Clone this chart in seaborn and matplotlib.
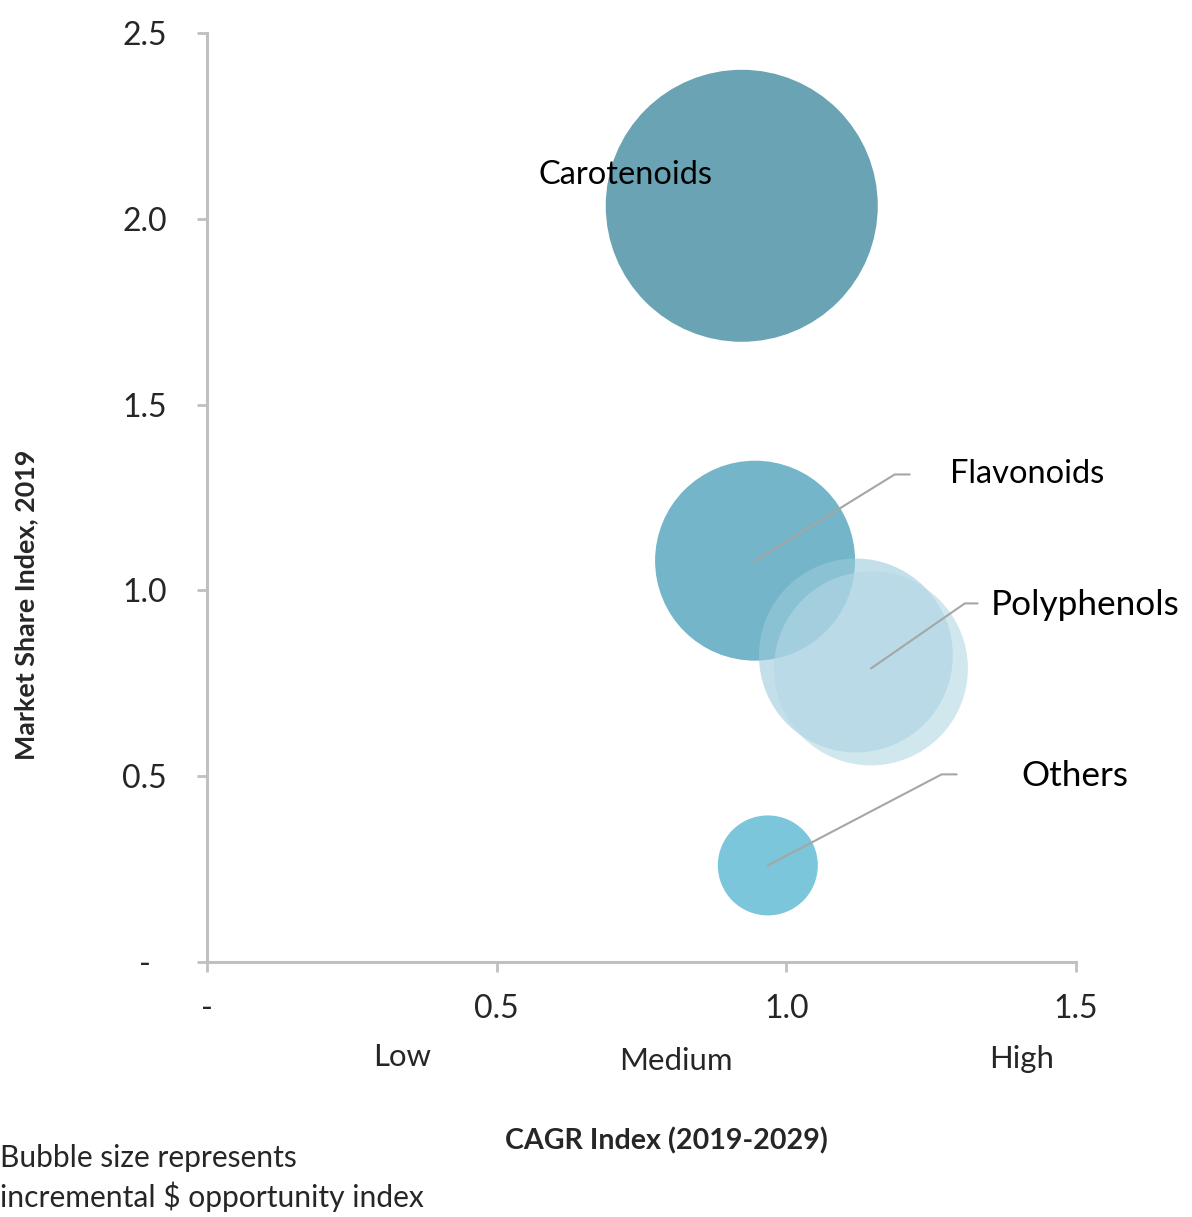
import pandas as pd
import seaborn as sns
import matplotlib
import matplotlib.pyplot as plt

matplotlib.use("Agg")

# Bubble data
segments = ["Carotenoids", "Flavonoids", "Others", "Polyphenols (shadow)", "Polyphenols"]
cagr_index = [0.923, 0.946, 0.968, 1.120, 1.146]
share_index = [2.035, 1.080, 0.260, 0.825, 0.790]
opportunity_index = [1.85, 1.00, 0.25, 0.94, 0.94]

seg_colors = {
    "Carotenoids": "#6aa4b4",
    "Flavonoids": "#74b5c9",
    "Others": "#7bc6db",
    "Polyphenols (shadow)": "#9ccbdb",
    "Polyphenols": "#b3d7e4",
}

x_ticks = [0, 0.5, 1.0, 1.5]
x_tick_labels = ["-", "0.5", "1.0", "1.5"]
y_ticks = [0, 0.5, 1.0, 1.5, 2.0, 2.5]
y_tick_labels = ["-", "0.5", "1.0", "1.5", "2.0", "2.5"]
growth_bands = ["Low", "Medium", "High"]
growth_band_x = [0.336, 0.809, 1.406]

df = pd.DataFrame({"Segment": segments, "CAGR": cagr_index,
                   "Share": share_index, "Opportunity": opportunity_index})

sns.set_theme(style="white")
plt.rcParams["font.family"] = ["Lato", "DejaVu Sans"]

fig = plt.figure(figsize=(11.92, 12.17), dpi=100)
ax = fig.add_axes([0.1737, 0.2095, 0.729, 0.7634])

# marker area: opportunity 1.0 -> 100 px radius
area_unit = (2 * 100 * 72 / 100) ** 2
sizes = {s: o * area_unit for s, o in zip(segments, opportunity_index)}

solid = df[~df["Segment"].str.startswith("Polyphenols")]
faded = df[df["Segment"].str.startswith("Polyphenols")]
sns.scatterplot(data=solid, x="CAGR", y="Share", hue="Segment", size="Segment",
                sizes=sizes, palette=seg_colors, linewidth=0, legend=False, ax=ax)
sns.scatterplot(data=faded, x="CAGR", y="Share", hue="Segment", size="Segment",
                sizes=sizes, palette=seg_colors, linewidth=0, alpha=0.6, legend=False, ax=ax)

ax.set_xlim(0, 1.5)
ax.set_ylim(0, 2.5)
ax.set_xticks(x_ticks)
ax.set_xticklabels(x_tick_labels)
ax.set_yticks(y_ticks)
ax.set_yticklabels(y_tick_labels)
for lab in ax.get_yticklabels():
    lab.set_ha("center")
ax.tick_params(axis="y", length=7, width=2, color="#c0c0c0", pad=38, labelsize=23, left=True)
ax.tick_params(axis="x", length=7, width=2, color="#c0c0c0", pad=16, labelsize=23, bottom=True)

for side in ["top", "right"]:
    ax.spines[side].set_visible(False)
for side in ["left", "bottom"]:
    ax.spines[side].set_color("#c0c0c0")
    ax.spines[side].set_linewidth(2.2)

# labels with leader lines
line_col = "#a6a6a6"
leaders = {
    "Flavonoids": [(1.187, 1.312), (1.213, 1.312)],
    "Polyphenols": [(1.308, 0.965), (1.330, 0.965)],
    "Others": [(1.268, 0.505), (1.294, 0.505)],
}
label_pos = {
    "Carotenoids": (0.722, 2.117, "center", 23.5),
    "Flavonoids": (1.282, 1.312, "left", 23.5),
    "Polyphenols": (1.353, 0.962, "left", 25.3),
    "Others": (1.406, 0.500, "left", 25.3),
}
for name, pts in leaders.items():
    row = df[df["Segment"] == name].iloc[0]
    xs = [row["CAGR"]] + [p[0] for p in pts]
    ys = [row["Share"]] + [p[1] for p in pts]
    ax.plot(xs, ys, color=line_col, lw=1.5, clip_on=False, zorder=5)
for name, (lx, ly, ha, fs) in label_pos.items():
    ax.text(lx, ly, name, ha=ha, va="center", fontsize=fs, color="black", clip_on=False, zorder=6)

# growth band labels under the x axis
band_y = [-0.102, -0.106, -0.104]
for name, bx, by in zip(growth_bands, growth_band_x, band_y):
    ax.text(bx, by, name, transform=ax.get_xaxis_transform(), ha="center", va="center", fontsize=22.4)

ax.set_xlabel("CAGR Index (2019-2029)", fontsize=20.6, fontweight="bold")
ax.xaxis.set_label_coords(0.529, -0.193)
ax.xaxis.label.set_va("center")
ax.set_ylabel("Market Share Index, 2019", fontsize=19.4, fontweight="bold")
ax.yaxis.set_label_coords(-0.208, 0.384)
ax.yaxis.label.set_va("center")

fig.text(0.0, 1 - 1158 / 1217, "Bubble size represents", fontsize=21.6, ha="left", va="center")
fig.text(0.0, 1 - 1197 / 1217, "incremental $ opportunity index", fontsize=21.6, ha="left", va="center")

fig.savefig("out.png", dpi=100)
